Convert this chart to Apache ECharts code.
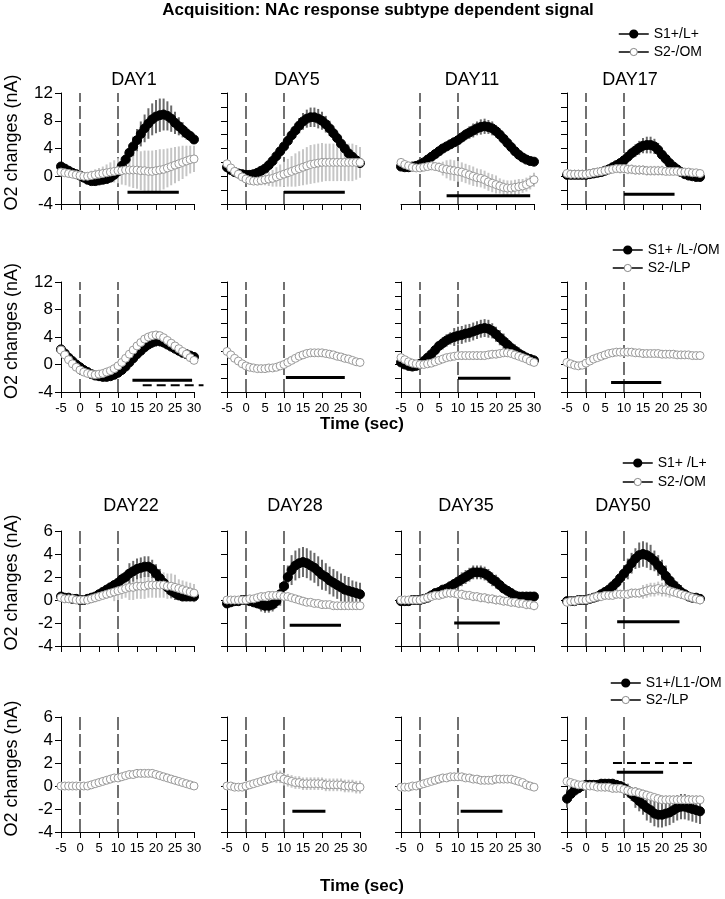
<!DOCTYPE html>
<html><head><meta charset="utf-8">
<script src="https://cdn.jsdelivr.net/npm/echarts/dist/echarts.min.js"></script>
<style>html,body{margin:0;padding:0;background:#fff}#chart{width:725px;height:899px}</style>
</head><body><div id="chart"></div>
<script>
// ---------------- DATA ----------------
const timeSec = [-5,-4,-3,-2,-1,0,1,2,3,4,5,6,7,8,9,10,11,12,13,14,15,16,17,18,19,20,21,22,23,24,25,26,27,28,29,30];
const cueTimes = [0, 10];
const xTickStep = 5;

// Row 1 (S1+/L+ vs S2-/OM)
const r1_day1_s1 = [1.4,1.1,0.8,0.5,0.3,0.1, -0.2,-0.5,-0.7,-0.7,-0.6,-0.5, -0.4,-0.2,0.2,0.7,1.5,2.4, 3.4,4.3,5.2,6.1,6.9,7.6, 8.2,8.6,8.8,8.9,8.7,8.3, 7.7,7.2,6.7,6.2,5.8,5.3];
const r1_day1_s1_err = [0.3,0.3,0.3,0.3,0.3,0.3, 0.3,0.3,0.3,0.3,0.3,0.3, 0.3,0.3,0.4,0.6,0.8,1.0, 1.2,1.4,1.6,1.8,2.0,2.2, 2.3,2.4,2.4,2.3,2.1,1.9, 1.6,1.3,1.1,0.9,0.7,0.6];
const r1_day1_s2 = [0.6,0.5,0.4,0.3,0.2,0.1, 0.0,0.0,0.1,0.2,0.3,0.4, 0.5,0.6,0.7,0.8,0.8,0.9, 0.9,0.9,0.9,0.8,0.8,0.7, 0.7,0.8,0.9,1.0,1.2,1.4, 1.6,1.8,2.0,2.2,2.4,2.5];
const r1_day1_s2_err = [0.3,0.3,0.3,0.3,0.3,0.4, 0.5,0.6,0.7,0.8,0.9,1.0, 1.2,1.4,1.6,1.8,2.0,2.2, 2.4,2.6,2.7,2.8,2.9,3.0, 3.0,3.0,3.0,2.9,2.8,2.7, 2.6,2.5,2.4,2.2,2.0,1.9];

const r1_day5_s1 = [1.3,0.9,0.6,0.4,0.3,0.2, 0.2,0.3,0.5,0.8,1.1,1.6, 2.2,2.9,3.6,4.3,5.1,5.9, 6.6,7.3,7.9,8.3,8.5,8.5, 8.3,8.0,7.5,6.9,6.2,5.5, 4.7,4.0,3.3,2.8,2.3,1.9];
const r1_day5_s1_err = [0.2,0.2,0.2,0.2,0.2,0.2, 0.2,0.2,0.2,0.2,0.3,0.4, 0.4,0.5,0.6,0.7,0.8,0.9, 1.0,1.1,1.2,1.3,1.4,1.4, 1.4,1.3,1.2,1.1,1.0,0.9, 0.8,0.7,0.6,0.5,0.5,0.4];
const r1_day5_s2 = [1.8,1.2,0.7,0.3,-0.1,-0.4, -0.6,-0.7,-0.7,-0.6,-0.5,-0.4, -0.3,-0.1,0.1,0.3,0.5,0.7, 0.9,1.1,1.3,1.5,1.7,1.8, 1.9,2.0,2.0,2.0,2.0,2.0, 2.0,2.0,2.0,2.0,2.0,2.0];
const r1_day5_s2_err = [0.2,0.2,0.2,0.2,0.2,0.3, 0.4,0.5,0.6,0.7,0.8,1.0, 1.2,1.4,1.6,1.8,2.0,2.2, 2.4,2.5,2.6,2.7,2.8,2.8, 2.8,2.8,2.7,2.7,2.7,2.7, 2.7,2.7,2.7,2.7,2.5,2.2];

const r1_day11_s1 = [1.4,1.3,1.3,1.4,1.5,1.7, 2.0,2.4,2.8,3.2,3.6,4.0, 4.3,4.6,4.9,5.2,5.6,6.0, 6.3,6.6,6.9,7.1,7.2,7.1, 6.9,6.5,6.0,5.4,4.8,4.2, 3.6,3.1,2.7,2.4,2.2,2.1];
const r1_day11_s1_err = [0.2,0.2,0.2,0.2,0.2,0.2, 0.3,0.3,0.3,0.3,0.3,0.5, 0.5,0.5,0.5,0.6,0.7,0.8, 0.9,1.0,1.0,1.1,1.1,1.0, 1.0,0.9,0.9,0.8,0.8,0.7, 0.7,0.6,0.6,0.5,0.5,0.4];
const r1_day11_s2 = [2.0,1.7,1.5,1.3,1.2,1.2, 1.3,1.4,1.5,1.4,1.3,1.1, 1.0,0.9,0.8,0.7,0.6,0.4, 0.2,0.0,-0.2,-0.3,-0.5,-0.8, -1.0,-1.2,-1.4,-1.6,-1.7,-1.7, -1.6,-1.5,-1.4,-1.2,-0.9,-0.5];
const r1_day11_s2_err = [0.2,0.2,0.2,0.2,0.2,0.2, 0.4,0.4,0.4,0.4,0.7,1.0, 1.3,1.5,1.5,1.5,1.4,1.4, 1.4,1.4,1.3,1.3,1.3,1.3, 1.3,1.3,1.1,1.1,1.1,1.1, 1.1,1.1,1.0,1.0,1.0,1.0];

const r1_day17_s1 = [0.2,0.2,0.2,0.2,0.2,0.2, 0.3,0.4,0.5,0.6,0.8,1.0, 1.3,1.6,1.9,2.3,2.8,3.3, 3.7,4.1,4.4,4.5,4.5,4.3, 3.8,3.1,2.5,1.9,1.4,1.0, 0.6,0.3,0.1,0.0,-0.1,-0.1];
const r1_day17_s1_err = [0.2,0.2,0.2,0.2,0.2,0.2, 0.2,0.2,0.2,0.2,0.2,0.2, 0.2,0.3,0.4,0.5,0.6,0.8, 0.9,1.0,1.1,1.2,1.2,1.1, 1.0,0.9,0.8,0.6,0.5,0.4, 0.3,0.3,0.3,0.3,0.3,0.3];
const r1_day17_s2 = [0.4,0.3,0.3,0.3,0.3,0.3, 0.4,0.5,0.6,0.7,0.8,0.9, 1.0,1.1,1.1,1.1,1.0,1.0, 0.9,0.9,0.9,0.8,0.8,0.8, 0.8,0.8,0.7,0.7,0.7,0.7, 0.6,0.6,0.6,0.5,0.5,0.4];
const r1_day17_s2_err = [0.3,0.3,0.3,0.3,0.3,0.3, 0.3,0.3,0.3,0.4,0.4,0.4, 0.4,0.4,0.7,0.7,0.7,0.7, 0.7,0.7,0.7,0.7,0.7,0.7, 0.7,0.7,0.5,0.5,0.5,0.5, 0.5,0.5,0.5,0.5,0.5,0.5];

// Row 2 (S1+ /L-/OM vs S2-/LP)
const r2_day1_s1 = [2.2,1.6,1.0,0.5,0.0,-0.4, -0.8,-1.1,-1.4,-1.6,-1.7,-1.8, -1.8,-1.7,-1.5,-1.2,-0.8,-0.3, 0.3,0.9,1.5,2.0,2.5,2.9, 3.2,3.4,3.4,3.2,2.9,2.6, 2.3,2.0,1.7,1.5,1.3,1.1];
const r2_day1_s1_err = [0.2,0.2,0.2,0.2,0.2,0.2, 0.2,0.2,0.2,0.2,0.2,0.2, 0.2,0.2,0.2,0.2,0.4,0.4, 0.4,0.4,0.4,0.5,0.6,0.7, 0.8,0.8,0.8,0.7,0.6,0.5, 0.4,0.3,0.3,0.3,0.3,0.3];
const r2_day1_s2 = [2.1,1.4,0.7,0.1,-0.4,-0.8, -1.1,-1.3,-1.4,-1.5,-1.4,-1.3, -1.1,-0.9,-0.6,-0.2,0.3,0.9, 1.5,2.1,2.7,3.2,3.7,4.0, 4.2,4.3,4.2,3.9,3.5,3.1, 2.7,2.3,1.9,1.5,1.0,0.6];
const r2_day1_s2_err = [0.2,0.2,0.2,0.2,0.2,0.2, 0.2,0.2,0.2,0.2,0.2,0.2, 0.2,0.2,0.2,0.2,0.2,0.2, 0.3,0.3,0.4,0.4,0.4,0.4, 0.4,0.4,0.4,0.4,0.4,0.4, 0.4,0.3,0.3,0.3,0.2,0.2];

const r2_day5_s2 = [1.9,1.4,0.9,0.5,0.1,-0.2, -0.4,-0.5,-0.6,-0.6,-0.6,-0.5, -0.5,-0.4,-0.2,0.0,0.3,0.6, 0.9,1.2,1.4,1.6,1.7,1.7, 1.7,1.7,1.6,1.5,1.4,1.2, 1.1,0.9,0.8,0.6,0.4,0.3];
const r2_day5_s2_err = [0.2,0.2,0.2,0.2,0.2,0.2, 0.2,0.2,0.2,0.2,0.2,0.2, 0.2,0.2,0.2,0.2,0.2,0.2, 0.2,0.2,0.2,0.2,0.2,0.2, 0.2,0.2,0.2,0.2,0.2,0.2, 0.2,0.2,0.2,0.2,0.2,0.2];

const r2_day11_s1 = [0.3,0.0,-0.2,-0.3,-0.2,0.1, 0.5,1.0,1.5,2.1,2.7,3.1, 3.5,3.8,4.0,4.2,4.3,4.5, 4.6,4.8,5.0,5.2,5.3,5.2, 4.9,4.4,3.9,3.4,2.9,2.4, 2.0,1.6,1.3,1.0,0.8,0.6];
const r2_day11_s1_err = [0.2,0.2,0.2,0.2,0.2,0.2, 0.2,0.4,0.4,0.4,0.6,0.9, 0.9,0.9,1.3,1.3,1.3,1.3, 1.3,1.3,1.3,1.3,1.3,1.3, 1.1,1.1,1.1,1.1,0.9,0.9, 0.9,0.9,0.7,0.7,0.7,0.7];
const r2_day11_s2 = [1.0,0.7,0.4,0.2,0.1,0.0, 0.0,0.1,0.2,0.4,0.6,0.8, 1.0,1.1,1.2,1.3,1.3,1.3, 1.3,1.3,1.3,1.3,1.3,1.4, 1.5,1.5,1.6,1.7,1.7,1.6, 1.4,1.2,1.0,0.8,0.5,0.3];
const r2_day11_s2_err = [0.2,0.2,0.2,0.2,0.2,0.2, 0.2,0.2,0.2,0.2,0.4,0.4, 0.4,0.4,0.4,0.6,0.6,0.6, 0.6,0.6,0.6,0.6,0.6,0.6, 0.6,0.6,0.6,0.6,0.6,0.6, 0.6,0.5,0.5,0.5,0.5,0.5];

const r2_day17_s2 = [0.3,0.1,-0.1,-0.2,-0.1,0.2, 0.5,0.8,1.0,1.2,1.4,1.6, 1.7,1.8,1.8,1.8,1.8,1.8, 1.7,1.7,1.6,1.6,1.6,1.6, 1.6,1.5,1.5,1.5,1.5,1.4, 1.4,1.4,1.4,1.3,1.3,1.3];
const r2_day17_s2_err = [0.2,0.2,0.2,0.2,0.2,0.2, 0.2,0.2,0.5,0.5,0.5,0.5, 0.5,0.5,0.5,0.5,0.5,0.5, 0.5,0.5,0.5,0.5,0.5,0.5, 0.5,0.5,0.5,0.5,0.5,0.5, 0.5,0.5,0.5,0.5,0.5,0.5];

// Row 3 (S1+ /L+ vs S2-/OM)
const r3_day22_s1 = [0.3,0.2,0.2,0.1,0.1,0.0, 0.0,0.1,0.2,0.3,0.5,0.7, 0.9,1.1,1.3,1.5,1.8,2.0, 2.3,2.5,2.7,2.8,2.9,2.9, 2.7,2.3,1.9,1.5,1.1,0.8, 0.6,0.4,0.3,0.3,0.3,0.3];
const r3_day22_s1_err = [0.1,0.1,0.1,0.1,0.1,0.1, 0.1,0.1,0.1,0.1,0.1,0.3, 0.3,0.3,0.3,0.5,0.5,0.5, 0.9,0.9,0.9,0.9,0.9,0.9, 0.8,0.8,0.8,0.6,0.6,0.6, 0.6,0.3,0.3,0.3,0.3,0.3];
const r3_day22_s2 = [0.2,0.1,0.1,0.1,0.0,0.0, 0.0,0.0,0.1,0.2,0.3,0.4, 0.5,0.6,0.7,0.8,0.9,1.0, 1.1,1.1,1.2,1.2,1.2,1.3, 1.3,1.3,1.3,1.3,1.2,1.2, 1.1,1.0,0.9,0.8,0.7,0.6];
const r3_day22_s2_err = [0.2,0.2,0.2,0.2,0.2,0.2, 0.2,0.2,0.2,0.4,0.4,0.4, 0.4,0.4,0.8,0.8,0.8,0.8, 1.1,1.1,1.1,1.1,1.1,1.1, 1.1,1.1,1.1,1.1,1.1,1.1, 1.1,0.8,0.8,0.8,0.8,0.8];

const r3_day28_s1 = [-0.3,-0.2,-0.1,-0.1,0.0,0.0, -0.1,-0.2,-0.3,-0.4,-0.5,-0.5, -0.4,-0.1,0.5,1.2,2.0,2.6, 3.0,3.2,3.3,3.2,3.0,2.8, 2.5,2.2,2.0,1.7,1.5,1.3, 1.1,0.9,0.8,0.7,0.6,0.5];
const r3_day28_s1_err = [0.2,0.2,0.2,0.2,0.2,0.2, 0.2,0.2,0.2,0.6,0.6,0.6, 0.6,0.6,1.0,1.0,1.0,1.3, 1.3,1.3,1.3,1.3,1.3,1.3, 1.3,1.3,1.2,1.2,1.2,1.2, 1.2,1.2,1.2,1.0,1.0,1.0];
const r3_day28_s2 = [0.0,0.0,0.0,0.0,0.0,0.0, 0.1,0.1,0.2,0.3,0.3,0.4, 0.4,0.4,0.4,0.3,0.3,0.2, 0.1,0.0,-0.1,-0.2,-0.2,-0.3, -0.3,-0.4,-0.4,-0.4,-0.5,-0.5, -0.5,-0.5,-0.5,-0.5,-0.5,-0.5];
const r3_day28_s2_err = [0.2,0.2,0.2,0.2,0.2,0.2, 0.2,0.2,0.2,0.2,0.2,0.2, 0.2,0.2,0.2,0.3,0.3,0.3, 0.3,0.3,0.3,0.3,0.3,0.3, 0.3,0.3,0.3,0.3,0.3,0.3, 0.3,0.3,0.3,0.3,0.3,0.3];

const r3_day35_s1 = [-0.1,-0.1,-0.1,0.0,0.0,0.0, 0.1,0.2,0.4,0.6,0.7,0.9, 1.0,1.2,1.4,1.6,1.8,2.0, 2.2,2.4,2.4,2.4,2.3,2.1, 1.8,1.6,1.3,1.0,0.8,0.6, 0.4,0.3,0.3,0.3,0.3,0.3];
const r3_day35_s1_err = [0.1,0.1,0.1,0.1,0.1,0.1, 0.1,0.1,0.1,0.1,0.1,0.3, 0.3,0.3,0.3,0.6,0.6,0.6, 0.6,0.6,0.6,0.6,0.6,0.6, 0.6,0.6,0.3,0.3,0.3,0.3, 0.3,0.3,0.3,0.3,0.3,0.3];
const r3_day35_s2 = [0.0,0.0,0.0,0.0,0.0,0.0, 0.1,0.2,0.3,0.4,0.4,0.5, 0.6,0.6,0.6,0.5,0.5,0.4, 0.4,0.3,0.3,0.2,0.2,0.1, 0.1,0.0,0.0,-0.1,-0.1,-0.2, -0.2,-0.3,-0.3,-0.4,-0.4,-0.5];
const r3_day35_s2_err = [0.2,0.2,0.2,0.2,0.2,0.2, 0.2,0.2,0.2,0.2,0.2,0.4, 0.4,0.4,0.4,0.4,0.4,0.4, 0.4,0.4,0.4,0.4,0.4,0.4, 0.4,0.4,0.4,0.4,0.4,0.4, 0.4,0.4,0.4,0.4,0.4,0.4];

const r3_day50_s1 = [-0.1,-0.1,-0.1,0.0,0.0,0.0, 0.1,0.2,0.3,0.5,0.7,0.9, 1.2,1.5,1.9,2.3,2.7,3.2, 3.6,3.9,4.0,3.9,3.7,3.4, 3.0,2.6,2.1,1.7,1.3,1.0, 0.7,0.5,0.3,0.2,0.2,0.1];
const r3_day50_s1_err = [0.1,0.1,0.1,0.1,0.1,0.1, 0.1,0.1,0.1,0.3,0.3,0.3, 0.3,0.6,0.6,0.6,0.9,0.9, 0.9,1.1,1.1,1.1,1.1,0.9, 0.9,0.9,0.9,0.6,0.6,0.6, 0.6,0.3,0.3,0.3,0.3,0.3];
const r3_day50_s2 = [-0.2,-0.1,-0.1,0.0,0.0,0.0, 0.1,0.2,0.3,0.3,0.4,0.4, 0.4,0.5,0.5,0.5,0.5,0.6, 0.6,0.6,0.7,0.8,0.9,0.9, 1.0,0.9,0.9,0.8,0.7,0.6, 0.5,0.4,0.3,0.2,0.1,0.0];
const r3_day50_s2_err = [0.2,0.2,0.2,0.2,0.2,0.2, 0.2,0.2,0.2,0.4,0.4,0.4, 0.4,0.4,0.4,0.4,0.4,0.4, 0.4,0.4,0.6,0.6,0.6,0.6, 0.6,0.6,0.6,0.6,0.4,0.4, 0.4,0.4,0.4,0.4,0.4,0.4];

// Row 4 (S1+/L1-/OM vs S2-/LP)
const r4_day22_s2 = [0.0,0.0,0.0,0.0,0.0,0.0, 0.0,0.0,0.1,0.2,0.3,0.4, 0.5,0.6,0.7,0.7,0.8,0.9, 1.0,1.0,1.1,1.1,1.1,1.1, 1.1,1.0,0.9,0.8,0.7,0.6, 0.5,0.4,0.3,0.2,0.1,0.0];
const r4_day22_s2_err = [0.15,0.15,0.15,0.15,0.15,0.15, 0.15,0.15,0.15,0.15,0.15,0.35, 0.35,0.35,0.35,0.35,0.35,0.35, 0.35,0.35,0.35,0.35,0.35,0.35, 0.35,0.35,0.35,0.35,0.35,0.35, 0.35,0.35,0.35,0.35,0.35,0.35];

const r4_day28_s2 = [0.0,0.0,-0.1,-0.1,-0.1,0.0, 0.1,0.2,0.3,0.4,0.5,0.6, 0.7,0.8,0.8,0.6,0.5,0.4, 0.3,0.3,0.2,0.2,0.2,0.2, 0.2,0.2,0.1,0.1,0.1,0.1, 0.1,0.0,0.0,0.0,-0.1,-0.1];
const r4_day28_s2_err = [0.15,0.15,0.15,0.15,0.15,0.15, 0.15,0.15,0.15,0.35,0.35,0.35, 0.35,0.55,0.55,0.55,0.55,0.55, 0.55,0.55,0.55,0.55,0.55,0.55, 0.55,0.55,0.55,0.55,0.55,0.55, 0.55,0.55,0.55,0.55,0.55,0.55];

const r4_day35_s2 = [-0.1,-0.1,-0.1,0.0,0.0,0.1, 0.2,0.3,0.4,0.5,0.6,0.7, 0.7,0.8,0.8,0.8,0.8,0.7, 0.7,0.6,0.6,0.5,0.5,0.5, 0.5,0.6,0.6,0.6,0.6,0.6, 0.5,0.4,0.3,0.1,0.0,-0.1];
const r4_day35_s2_err = [0.15,0.15,0.15,0.15,0.15,0.15, 0.15,0.15,0.15,0.35,0.35,0.35, 0.35,0.35,0.35,0.35,0.35,0.35, 0.35,0.35,0.35,0.35,0.35,0.35, 0.35,0.35,0.35,0.35,0.35,0.35, 0.35,0.2,0.2,0.2,0.2,0.2];

const r4_day50_s1 = [-1.1,-0.7,-0.4,-0.2,0.0,0.1, 0.1,0.1,0.1,0.2,0.2,0.2, 0.2,0.1,0.0,-0.2,-0.4,-0.7, -1.0,-1.3,-1.6,-1.9,-2.1,-2.4, -2.5,-2.5,-2.4,-2.3,-2.1,-1.9, -1.8,-1.8,-1.9,-2.0,-2.1,-2.2];
const r4_day50_s1_err = [0.8,0.6,0.3,0.3,0.3,0.4, 0.4,0.4,0.4,0.4,0.4,0.4, 0.4,0.4,0.4,0.6,0.6,0.6, 0.9,0.9,0.9,1.1,1.1,1.1, 1.1,1.1,1.1,1.1,1.1,1.1, 1.1,1.1,1.1,1.1,1.1,1.1];
const r4_day50_s2 = [0.4,0.3,0.2,0.1,0.1,0.0, 0.0,0.0,-0.1,-0.1,-0.1,-0.1, -0.2,-0.2,-0.2,-0.3,-0.4,-0.5, -0.5,-0.6,-0.7,-0.8,-0.9,-1.0, -1.1,-1.2,-1.2,-1.2,-1.2,-1.2, -1.2,-1.2,-1.2,-1.2,-1.2,-1.2];
const r4_day50_s2_err = [0.2,0.2,0.2,0.2,0.2,0.2, 0.2,0.2,0.2,0.2,0.4,0.4, 0.4,0.4,0.4,0.4,0.4,0.4, 0.4,0.4,0.4,0.4,0.4,0.4, 0.4,0.4,0.4,0.4,0.4,0.4, 0.4,0.4,0.4,0.4,0.4,0.4];

// Significance bars: [startSec, endSec, level]
const sig_r1_day1 = [12.5, 26, -2.3];
const sig_r1_day5 = [10, 26, -2.3];
const sig_r1_day11 = [7, 29, -2.8];
const sig_r1_day17 = [10, 23.3, -2.6];
const sig_r2_day1 = [13.8, 29.5, -2.3];
const sigDash_r2_day1 = [16.5, 32.5, -3.0];
const sig_r2_day5 = [10.5, 26, -1.9];
const sig_r2_day11 = [10, 23.8, -2.0];
const sig_r2_day17 = [6.6, 19.8, -2.6];
const sig_r3_day28 = [11.5, 25, -2.2];
const sig_r3_day35 = [9, 21, -2.0];
const sig_r3_day50 = [8.2, 24.6, -1.9];
const sig_r4_day28 = [12.2, 20.9, -2.2];
const sig_r4_day35 = [10.7, 21.7, -2.2];
const sig_r4_day50 = [8.1, 20.3, 1.2];
const sigDash_r4_day50 = [7.1, 27.9, 2.0];

const rowSeriesNames = [['S1+/L+','S2-/OM'], ['S1+ /L-/OM','S2-/LP'], ['S1+ /L+','S2-/OM'], ['S1+/L1-/OM','S2-/LP']];
const yRanges = [[-4, 12], [-4, 12], [-4, 6], [-4, 6]];

const panels = [
  {row:0,col:0,title:'DAY1', s1:r1_day1_s1,s1e:r1_day1_s1_err,s2:r1_day1_s2,s2e:r1_day1_s2_err,sig:[sig_r1_day1],dash:[]},
  {row:0,col:1,title:'DAY5', s1:r1_day5_s1,s1e:r1_day5_s1_err,s2:r1_day5_s2,s2e:r1_day5_s2_err,sig:[sig_r1_day5],dash:[]},
  {row:0,col:2,title:'DAY11',s1:r1_day11_s1,s1e:r1_day11_s1_err,s2:r1_day11_s2,s2e:r1_day11_s2_err,sig:[sig_r1_day11],dash:[],hideY:true},
  {row:0,col:3,title:'DAY17',s1:r1_day17_s1,s1e:r1_day17_s1_err,s2:r1_day17_s2,s2e:r1_day17_s2_err,sig:[sig_r1_day17],dash:[]},
  {row:1,col:0,s1:r2_day1_s1,s1e:r2_day1_s1_err,s2:r2_day1_s2,s2e:r2_day1_s2_err,sig:[sig_r2_day1],dash:[sigDash_r2_day1]},
  {row:1,col:1,s1:null,s2:r2_day5_s2,s2e:r2_day5_s2_err,sig:[sig_r2_day5],dash:[]},
  {row:1,col:2,s1:r2_day11_s1,s1e:r2_day11_s1_err,s2:r2_day11_s2,s2e:r2_day11_s2_err,sig:[sig_r2_day11],dash:[]},
  {row:1,col:3,s1:null,s2:r2_day17_s2,s2e:r2_day17_s2_err,sig:[sig_r2_day17],dash:[]},
  {row:2,col:0,title:'DAY22',s1:r3_day22_s1,s1e:r3_day22_s1_err,s2:r3_day22_s2,s2e:r3_day22_s2_err,sig:[],dash:[]},
  {row:2,col:1,title:'DAY28',s1:r3_day28_s1,s1e:r3_day28_s1_err,s2:r3_day28_s2,s2e:r3_day28_s2_err,sig:[sig_r3_day28],dash:[]},
  {row:2,col:2,title:'DAY35',s1:r3_day35_s1,s1e:r3_day35_s1_err,s2:r3_day35_s2,s2e:r3_day35_s2_err,sig:[sig_r3_day35],dash:[]},
  {row:2,col:3,title:'DAY50',s1:r3_day50_s1,s1e:r3_day50_s1_err,s2:r3_day50_s2,s2e:r3_day50_s2_err,sig:[sig_r3_day50],dash:[]},
  {row:3,col:0,s1:null,s2:r4_day22_s2,s2e:r4_day22_s2_err,sig:[],dash:[]},
  {row:3,col:1,s1:null,s2:r4_day28_s2,s2e:r4_day28_s2_err,sig:[sig_r4_day28],dash:[]},
  {row:3,col:2,s1:null,s2:r4_day35_s2,s2e:r4_day35_s2_err,sig:[sig_r4_day35],dash:[]},
  {row:3,col:3,s1:r4_day50_s1,s1e:r4_day50_s1_err,s2:r4_day50_s2,s2e:r4_day50_s2_err,sig:[sig_r4_day50],dash:[sigDash_r4_day50]}
];

// ---------------- LAYOUT / STYLE ----------------
const FONT = 'Liberation Sans, Arial, Helvetica, sans-serif';
const colLeft = [61, 227, 401, 567];
const gridW = 133;
const rowTop = [93, 282, 531, 717];
const rowH = [111, 110, 115, 115];
const titleY = {0: 80, 2: 506};
const titleX = {0: [134, 297, 472, 630], 2: [131, 295, 466, 623]};
const legendPos = [{left:618, top:26, gap:2}, {left:612, top:242, gap:2}, {left:622, top:455, gap:3}, {left:610, top:675, gap:1}];
const S1_ERR = '#6a6a6a', S2_BORDER = '#9a9a9a', S2_ERR = '#c6c6c6';

const grids = [], xAxes = [], yAxes = [], series = [], graphics = [];

function errRenderer(color) {
  return function (params, api) {
    const x = api.value(0);
    const p1 = api.coord([x, api.value(1)]);
    const p2 = api.coord([x, api.value(2)]);
    return {type:'line', shape:{x1:p1[0], y1:p1[1], x2:p2[0], y2:p2[1]}, style:{stroke:color, lineWidth:2}};
  };
}
function barRenderer(width, dash) {
  return function (params, api) {
    const p1 = api.coord([api.value(0), api.value(2)]);
    const p2 = api.coord([api.value(1), api.value(2)]);
    return {type:'line', shape:{x1:p1[0], y1:p1[1], x2:p2[0], y2:p2[1]}, style:{stroke:'#000', lineWidth:width, lineDash:dash}};
  };
}

panels.forEach((p, i) => {
  const [ymin, ymax] = yRanges[p.row];
  const showXLabels = (p.row === 1 || p.row === 3);
  grids.push({left: colLeft[p.col], top: rowTop[p.row], width: gridW, height: rowH[p.row], containLabel:false, outerBoundsMode:'none'});
  xAxes.push({gridIndex:i, type:'value', min:-5, max:30, interval:xTickStep,
    axisLine:{show:true, onZero:false, lineStyle:{color:'#000', width:1}},
    axisTick:{show:true, length:6, lineStyle:{color:'#000'}},
    axisLabel:{show:showXLabels, fontSize:13, fontFamily:FONT, color:'#000', margin:10},
    splitLine:{show:false}});
  const isFirst = p.col === 0;
  yAxes.push({gridIndex:i, type:'value', min:ymin, max:ymax,
    interval: (p.row < 2 && isFirst) ? 4 : 2,
    axisLine:{show:!p.hideY, onZero:false, lineStyle:{color:'#000', width:1}},
    axisTick:{show:!p.hideY, length:6, lineStyle:{color:'#000'}},
    axisLabel:{show:isFirst, fontSize:17, fontFamily:FONT, color:'#000', margin:8},
    splitLine:{show:false},
    name: isFirst ? 'O2 changes (nA)' : '', nameLocation:'middle', nameGap:40,
    nameTextStyle:{fontSize:18, fontFamily:FONT, color:'#000', padding:[0,0,0,12]}});

  cueTimes.forEach(t => {
    series.push({type:'line', xAxisIndex:i, yAxisIndex:i, data:[[t, ymin], [t, ymax]], symbol:'none', silent:true,
      lineStyle:{color:'#111', width:1.2, type:[13, 4]}, z:1});
  });

  const names = rowSeriesNames[p.row];
  series.push({type:'custom', name:'err2', xAxisIndex:i, yAxisIndex:i, renderItem:errRenderer(S2_ERR),
    data: timeSec.map((t, k) => [t, p.s2[k] - p.s2e[k], p.s2[k] + p.s2e[k]]), encode:{x:0, y:[1, 2]}, z:2, silent:true});
  if (p.s1) {
    series.push({type:'custom', name:'err1', xAxisIndex:i, yAxisIndex:i, renderItem:errRenderer(S1_ERR),
      data: timeSec.map((t, k) => [t, p.s1[k] - p.s1e[k], p.s1[k] + p.s1e[k]]), encode:{x:0, y:[1, 2]}, z:3, silent:true});
    series.push({type:'line', name:names[0], xAxisIndex:i, yAxisIndex:i, data: timeSec.map((t, k) => [t, p.s1[k]]),
      symbol:'circle', symbolSize:9, showAllSymbol:true, lineStyle:{color:'#000', width:1.5},
      itemStyle:{color:'#000', borderColor:'#000', borderWidth:1}, z:4});
  }
  series.push({type:'line', name:names[1], xAxisIndex:i, yAxisIndex:i, data: timeSec.map((t, k) => [t, p.s2[k]]),
    symbol:'circle', symbolSize:8, showAllSymbol:true, lineStyle:{color:'#000', width:1.5},
    itemStyle:{color:'#fff', borderColor:S2_BORDER, borderWidth:1}, z:5});

  p.sig.forEach(s => series.push({type:'custom', xAxisIndex:i, yAxisIndex:i, renderItem:barRenderer(3, null),
    data:[s], encode:{x:[0, 1], y:2}, z:6, silent:true, clip:false}));
  p.dash.forEach(s => series.push({type:'custom', xAxisIndex:i, yAxisIndex:i, renderItem:barRenderer(2, [9, 5]),
    data:[s], encode:{x:[0, 1], y:2}, z:6, silent:true, clip:false}));

  if (p.title) {
    graphics.push({type:'text', x: titleX[p.row][p.col], y: titleY[p.row],
      style:{text:p.title, font:'18px ' + FONT, fill:'#000', textAlign:'center', textVerticalAlign:'middle'}});
  }
});

graphics.push({type:'text', x:378, y:10, style:{text:'Acquisition: NAc response subtype dependent signal', font:'bold 17px ' + FONT, fill:'#000', textAlign:'center', textVerticalAlign:'middle'}});
graphics.push({type:'text', x:362, y:424, style:{text:'Time (sec)', font:'bold 17px ' + FONT, fill:'#000', textAlign:'center', textVerticalAlign:'middle'}});
graphics.push({type:'text', x:362, y:886, style:{text:'Time (sec)', font:'bold 17px ' + FONT, fill:'#000', textAlign:'center', textVerticalAlign:'middle'}});

const legends = rowSeriesNames.map((nm, r) => ({
  orient:'vertical', left:legendPos[r].left, top:legendPos[r].top, itemGap:legendPos[r].gap, padding:0,
  itemWidth:30, itemHeight:9, selectedMode:false,
  textStyle:{fontSize:14, lineHeight:16, fontFamily:FONT, color:'#000'},
  data:[
    {name:nm[0], itemStyle:{color:'#000', borderColor:'#000'}, lineStyle:{color:'#000', width:1.5}},
    {name:nm[1], itemStyle:{color:'#fff', borderColor:'#888', borderWidth:1}, lineStyle:{color:'#000', width:1.5}}
  ]
}));

const chart = echarts.init(document.getElementById('chart'), null, {renderer:'canvas'});
chart.setOption({
  animation:false,
  backgroundColor:'#fff',
  textStyle:{fontFamily:FONT},
  grid:grids, xAxis:xAxes, yAxis:yAxes, series:series, legend:legends, graphic:graphics
});
</script>
</body></html>
